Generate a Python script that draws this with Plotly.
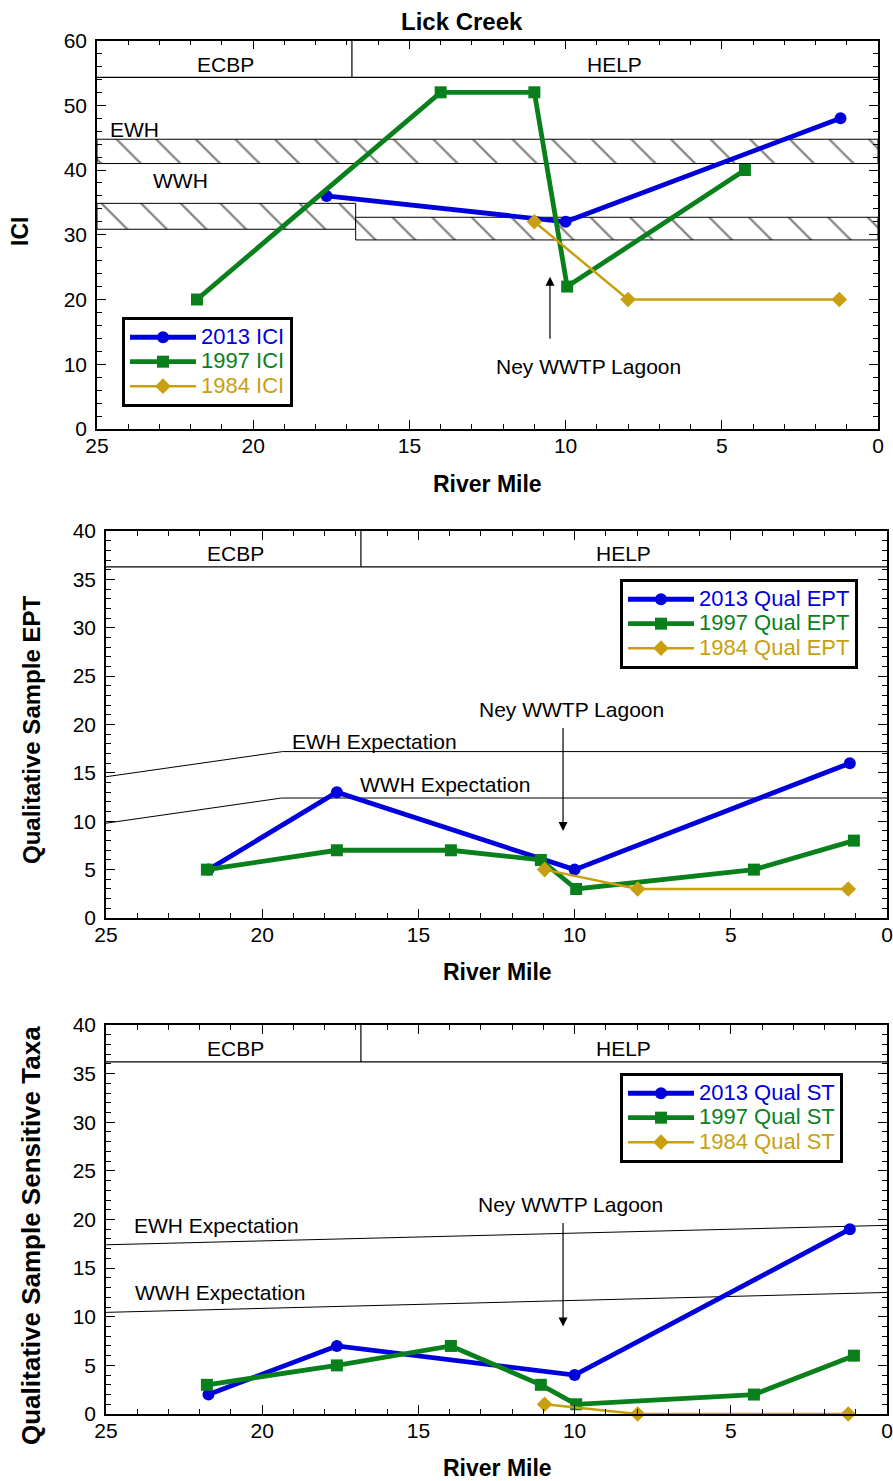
import plotly.graph_objects as go

W, H = 893, 1481
FONT = "Liberation Sans, Arial, Helvetica, sans-serif"
BLUE = "#0000DD"
GREEN = "#0A801C"
GOLD = "#C8A00F"

# ---------------- data ----------------
# ICI panel
ici_2013_rm = [17.65, 10.0, 1.2]
ici_2013 = [36, 32, 48]
ici_1997_rm = [21.8, 14.0, 11.0, 9.95, 4.26]
ici_1997 = [20, 52, 52, 22, 40]
ici_1984_rm = [11.0, 8.0, 1.24]
ici_1984 = [32, 20, 20]

# Qualitative EPT panel
ept_2013_rm = [21.72, 17.61, 10.0, 1.19]
ept_2013 = [5, 13, 5, 16]
ept_1997_rm = [21.77, 17.61, 13.96, 11.08, 9.95, 4.26, 1.06]
ept_1997 = [5, 7, 7, 6, 3, 5, 8]
ept_1984_rm = [10.96, 7.98, 1.24]
ept_1984 = [5, 3, 3]

# Qualitative sensitive taxa panel
st_2013_rm = [21.72, 17.61, 10.0, 1.19]
st_2013 = [2, 7, 4, 19]
st_1997_rm = [21.77, 17.61, 13.96, 11.08, 9.95, 4.26, 1.06]
st_1997 = [3, 5, 7, 3, 1, 2, 6]
st_1984_rm = [10.96, 7.98, 1.24]
st_1984 = [1, 0, 0]

# Criteria / reference values
ecoregion_split_rm = 16.84
ecoregion_names = ["ECBP", "HELP"]
ecoregion_label_rm = [20.9, 8.45]
ici_eco_line = 54.3
ept_eco_line = 36.3
st_eco_line = 36.2

ici_ewh_band = [41.0, 44.75]
ici_wwh_split_rm = 16.72
ici_wwh_ecbp_band = [30.85, 34.85]
ici_wwh_help_band = [29.2, 32.7]

ept_ewh_rm = [25.0, 19.35, 0.0]
ept_ewh = [14.6, 17.2, 17.2]
ept_wwh_rm = [25.0, 19.38, 0.0]
ept_wwh = [9.8, 12.4, 12.4]

st_exp_rm = [25.0, 0.0]
st_ewh = [17.4, 19.4]
st_wwh = [10.45, 12.5]

lagoon_rm = 10.5
lagoon_rm2 = 10.37

x_ticks = [0, 5, 10, 15, 20, 25]


def px_x(p):
    return min(max(p / W, 0.0), 1.0)


def px_y(p):
    return min(max(1 - p / H, 0.0), 1.0)


fig = go.Figure()

hatch = dict(shape="\\", size=28, solidity=0.08, fgcolor="black", bgcolor="white")


def band(x0, x1, yr, xa, ya):
    fig.add_trace(go.Scatter(
        x=[x0, x1, x1, x0, x0], y=[yr[0], yr[0], yr[1], yr[1], yr[0]],
        mode="lines", fill="toself", fillpattern=hatch, fillcolor="white",
        line=dict(color="black", width=1), showlegend=False, hoverinfo="skip",
        xaxis=xa, yaxis=ya))


def hline(xs, ys, xa, ya, w=1):
    fig.add_trace(go.Scatter(x=xs, y=ys, mode="lines",
                             line=dict(color="black", width=w),
                             showlegend=False, hoverinfo="skip", xaxis=xa, yaxis=ya))


# ---- panel 1 bands ----
band(25, 0, ici_ewh_band, "x", "y")
band(25, ici_wwh_split_rm, ici_wwh_ecbp_band, "x", "y")
band(ici_wwh_split_rm, 0, ici_wwh_help_band, "x", "y")
hline([25, 0], [ici_eco_line, ici_eco_line], "x", "y", 1.2)
hline([ecoregion_split_rm, ecoregion_split_rm], [ici_eco_line, 60], "x", "y", 1.2)

# ---- panel 2 lines ----
hline(ept_ewh_rm, ept_ewh, "x2", "y2")
hline(ept_wwh_rm, ept_wwh, "x2", "y2")
hline([25, 0], [ept_eco_line, ept_eco_line], "x2", "y2", 1.2)
hline([ecoregion_split_rm, ecoregion_split_rm], [ept_eco_line, 40], "x2", "y2", 1.2)

# ---- panel 3 lines ----
hline(st_exp_rm, st_ewh, "x3", "y3")
hline(st_exp_rm, st_wwh, "x3", "y3")
hline([25, 0], [st_eco_line, st_eco_line], "x3", "y3", 1.2)
hline([ecoregion_split_rm, ecoregion_split_rm], [st_eco_line, 40], "x3", "y3", 1.2)


def series(xs, ys, name, color, symbol, msize, lw, xa, ya, leg):
    fig.add_trace(go.Scatter(
        x=xs, y=ys, mode="lines+markers",
        name=f"<span style='color:{color};font-size:22px'>{name}</span>",
        line=dict(color=color, width=lw),
        marker=dict(symbol=symbol, size=msize, color=color),
        xaxis=xa, yaxis=ya, legend=leg, cliponaxis=False))


series(ici_2013_rm, ici_2013, "2013 ICI", BLUE, "circle", 12, 4.8, "x", "y", "legend")
series(ici_1997_rm, ici_1997, "1997 ICI", GREEN, "square", 12, 4.8, "x", "y", "legend")
series(ici_1984_rm, ici_1984, "1984 ICI", GOLD, "diamond", 12, 2.5, "x", "y", "legend")

series(ept_2013_rm, ept_2013, "2013 Qual EPT", BLUE, "circle", 12, 4.8, "x2", "y2", "legend2")
series(ept_1997_rm, ept_1997, "1997 Qual EPT", GREEN, "square", 12, 4.8, "x2", "y2", "legend2")
series(ept_1984_rm, ept_1984, "1984 Qual EPT", GOLD, "diamond", 12, 2.5, "x2", "y2", "legend2")

series(st_2013_rm, st_2013, "2013 Qual ST", BLUE, "circle", 12, 4.8, "x3", "y3", "legend3")
series(st_1997_rm, st_1997, "1997 Qual ST", GREEN, "square", 12, 4.8, "x3", "y3", "legend3")
series(st_1984_rm, st_1984, "1984 Qual ST", GOLD, "diamond", 12, 2.5, "x3", "y3", "legend3")

tickfont = dict(family=FONT, size=21, color="black")
axis_common = dict(
    showline=True, linecolor="black", linewidth=1.5, mirror="allticks",
    ticks="inside", ticklen=9, tickwidth=1.2, tickcolor="black",
    showgrid=False, zeroline=False, tickfont=tickfont, fixedrange=True, automargin=False,
    minor=dict(ticks="inside", ticklen=5, tickwidth=1, tickcolor="black", showgrid=False),
)


def xaxis(dom_px, anchor):
    d = dict(axis_common)
    d.update(domain=[px_x(dom_px[0]), px_x(dom_px[1])], range=[25, 0], autorange=False,
             tickvals=x_ticks, anchor=anchor, ticklabelstandoff=-3)
    d["minor"] = dict(axis_common["minor"], dtick=1, tick0=0)
    return d


def yaxis(dom_px, rng, dt, mdt, anchor):
    d = dict(axis_common)
    d.update(domain=[px_y(dom_px[1]), px_y(dom_px[0])], range=rng, autorange=False,
             dtick=dt, tick0=0, anchor=anchor, ticklabelstandoff=4)
    d["minor"] = dict(axis_common["minor"], dtick=mdt, tick0=0)
    return d


legend_common = dict(
    bgcolor="white", bordercolor="black", borderwidth=3,
    font=dict(family=FONT, size=16.5, color="black"),
    xanchor="left", yanchor="top", tracegroupgap=0, itemwidth=66,
)

annos = []


def text(x, y, s, xa, ya, size=21, xanchor="center", bold=False, angle=0):
    annos.append(dict(x=x, y=y, xref=xa, yref=ya, text=f"<b>{s}</b>" if bold else s,
                      showarrow=False, xanchor=xanchor, yanchor="middle", textangle=angle,
                      font=dict(family=FONT, size=size, color="black")))


# titles
text(px_x(462), px_y(21), "Lick Creek", "paper", "paper", 24, bold=True)
text(px_x(488), px_y(484), "River Mile", "paper", "paper", 23, bold=True)
text(px_x(497), px_y(972), "River Mile", "paper", "paper", 23, bold=True)
text(px_x(497), px_y(1468), "River Mile", "paper", "paper", 23, bold=True)
text(px_x(20), px_y(232), "ICI", "paper", "paper", 23, bold=True, angle=-90)
text(px_x(31), px_y(730), "Qualitative Sample EPT", "paper", "paper", 24, bold=True, angle=-90)
text(px_x(31), px_y(1236), "Qualitative Sample Sensitive Taxa", "paper", "paper", 26, bold=True, angle=-90)

# panel 1 labels
text(ecoregion_label_rm[0], 56.25, ecoregion_names[0], "x", "y")
text(ecoregion_label_rm[1], 56.25, ecoregion_names[1], "x", "y")
text(24.65, 46.2, "EWH", "x", "y", xanchor="left")
text(22.34, 38.4, "WWH", "x", "y")
text(9.28, 9.7, "Ney WWTP Lagoon", "x", "y")
# panel 2 labels
text(20.85, 37.7, ecoregion_names[0], "x2", "y2")
text(ecoregion_label_rm[1], 37.7, ecoregion_names[1], "x2", "y2")
text(19.11, 18.2, "EWH Expectation", "x2", "y2", xanchor="left")
text(16.92, 13.8, "WWH Expectation", "x2", "y2", xanchor="left")
text(10.11, 21.6, "Ney WWTP Lagoon", "x2", "y2")
# panel 3 labels
text(20.85, 37.55, ecoregion_names[0], "x3", "y3")
text(ecoregion_label_rm[1], 37.55, ecoregion_names[1], "x3", "y3")
text(24.18, 19.4, "EWH Expectation", "x3", "y3", xanchor="left")
text(24.15, 12.5, "WWH Expectation", "x3", "y3", xanchor="left")
text(10.13, 21.5, "Ney WWTP Lagoon", "x3", "y3")

# arrows
for (xa, ya, xh, yh, yt) in [("x", "y", lagoon_rm, 23.5, 13.7),
                             ("x2", "y2", lagoon_rm2, 9.0, 19.8),
                             ("x3", "y3", lagoon_rm2, 9.0, 19.8)]:
    annos.append(dict(x=xh, y=yh, xref=xa, yref=ya, ax=xh, ay=yt, axref=xa, ayref=ya,
                      text="", showarrow=True, arrowhead=2, arrowsize=1.5, arrowwidth=1.2,
                      arrowcolor="black", standoff=0, startstandoff=0))

fig.update_layout(
    width=W, height=H, margin=dict(l=0, r=0, t=0, b=0, pad=0, autoexpand=False),
    paper_bgcolor="white", plot_bgcolor="white",
    font=dict(family=FONT, size=20, color="black"),
    xaxis=xaxis([97, 878], "y"),
    yaxis=yaxis([40.5, 429], [0, 60], 10, 2, "x"),
    xaxis2=xaxis([106, 887], "y2"),
    yaxis2=yaxis([531, 918], [0, 40], 5, 1, "x2"),
    xaxis3=xaxis([106, 887], "y3"),
    yaxis3=yaxis([1025, 1414], [0, 40], 5, 1, "x3"),
    legend=dict(legend_common, x=px_x(122), y=px_y(317)),
    legend2=dict(legend_common, x=px_x(620), y=px_y(579)),
    legend3=dict(legend_common, x=px_x(620), y=px_y(1073)),
    annotations=annos,
    showlegend=True,
)

fig.write_html("out.html")
